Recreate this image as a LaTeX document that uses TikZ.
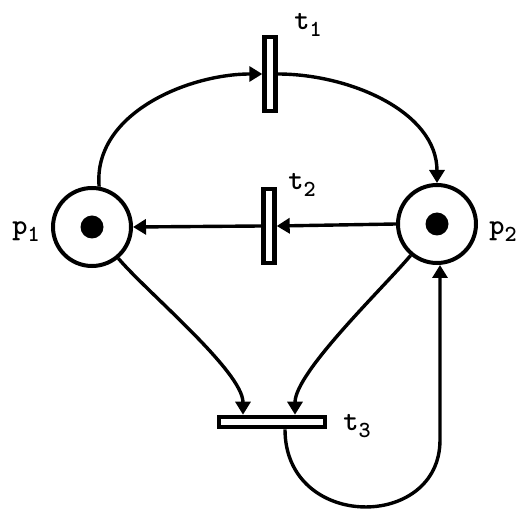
\documentclass[tikz,border=0pt]{standalone}
\usepackage{fontspec}
\usetikzlibrary{arrows.meta}
\newcommand{\lab}[2]{{\ttfamily\bfseries\fontsize{29}{29}\selectfont #1\raisebox{-7pt}{\fontsize{23}{23}\selectfont #2}}}
\begin{document}
\begin{tikzpicture}[x=1pt,y=1pt,
  place/.style={draw,circle,line width=4pt,minimum size=78pt,inner sep=0pt,fill=white},
  token/.style={fill,circle,minimum size=23pt,inner sep=0pt},
  vtrans/.style={draw,rectangle,line width=4.4pt,minimum width=11pt,minimum height=74pt,inner sep=0pt,fill=white},
  htrans/.style={draw,rectangle,line width=4.6pt,minimum width=106pt,minimum height=10pt,inner sep=0pt,fill=white},
  arc/.style={line width=3.4pt,-{Triangle[length=13pt,width=15pt]}},
  lbl/.style={inner sep=0pt}]
\useasboundingbox (0,0) rectangle (523,512);
% places
\node[place] (p1) at (92,285) {};
\node[token] (k1) at (92,285) {};
\node[place] (p2) at (437,288) {};
\node[token] (k2) at (437,288) {};
% transitions
\node[vtrans] (t1) at (270,438) {};
\node[vtrans] (t2) at (269,286) {};
\node[htrans] (t3) at (272,90) {};
% labels
\node[lbl] (l1) at (308,487) {\lab{t}{1}};
\node[lbl] (l2) at (302,327) {\lab{t}{2}};
\node[lbl] (l3) at (357,86) {\lab{t}{3}};
\node[lbl] (lp1) at (26,280) {\lab{p}{1}};
\node[lbl] (lp2) at (503,280) {\lab{p}{2}};
\coordinate (loopR) at (440,72);
% arcs
\draw[arc] (p1.80) to[out=95,in=180,looseness=0.95] (t1.west);
\draw[arc] (t1.east) to[out=0,in=90,looseness=0.95] (p2.north);
\draw[arc] (p2.west) -- (t2.east);
\draw[arc] (t2.west) -- (p1.east);
\draw[arc] (p1.-50) to[out=-50,in=90,looseness=0.55] ([xshift=-29pt]t3.north);
\draw[arc] (p2.-130) to[out=-130,in=90,looseness=0.55] ([xshift=23pt]t3.north);
\draw[arc] ([xshift=13pt]t3.south) .. controls (285,-19) and (440,-19) .. (loopR) -- ([xshift=3pt]p2.south);
% redraw transitions on top
\node[vtrans] at (t1) {};
\node[vtrans] at (t2) {};
\node[htrans] at (t3) {};
\end{tikzpicture}
\end{document}
